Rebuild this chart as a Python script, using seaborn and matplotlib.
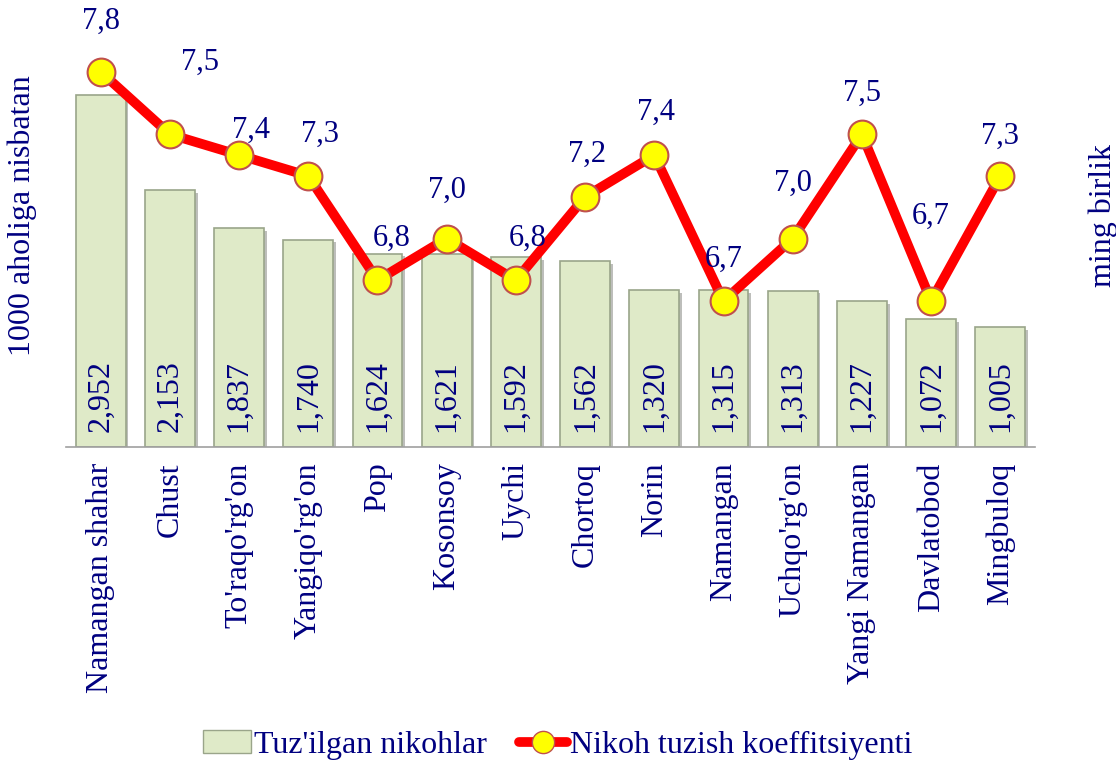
import matplotlib
matplotlib.use("Agg")
import matplotlib.pyplot as plt
import matplotlib.patheffects as pe
from matplotlib.patches import Patch
from matplotlib.lines import Line2D
import seaborn as sns
import pandas as pd

districts = ["Namangan shahar", "Chust", "To'raqo'rg'on", "Yangiqo'rg'on", "Pop",
             "Kosonsoy", "Uychi", "Chortoq", "Norin", "Namangan", "Uchqo'rg'on",
             "Yangi Namangan", "Davlatobod", "Mingbuloq"]
marriages = [2952, 2153, 1837, 1740, 1624, 1621, 1592, 1562, 1320, 1315, 1313, 1227, 1072, 1005]
coef = [7.8, 7.5, 7.4, 7.3, 6.8, 7.0, 6.8, 7.2, 7.4, 6.7, 7.0, 7.5, 6.7, 7.3]

# label offsets (pixels) for the coefficient labels, as placed in the original
label_offsets = [(0, 50), (30, 72), (12, 25), (12, 42), (14, 42), (0, 48), (12, 42),
                 (2, 42), (2, 43), (0, 42), (0, 55), (0, 41), (0, 85), (0, 40)]

NAVY = "#000080"

sns.set_theme(style="white")
plt.rcParams['font.family'] = ['Liberation Serif', 'DejaVu Serif']

df = pd.DataFrame({"district": districts, "marriages": marriages, "coef": coef})

fig = plt.figure(figsize=(11.16, 7.6), dpi=100)
ax = fig.add_axes([66 / 1116, 1 - 447 / 760, (1035 - 66) / 1116, (447 - 30) / 760])

sns.barplot(data=df, x="district", y="marriages", ax=ax, color="#DFEAC8",
            edgecolor="#9AA58A", linewidth=1.2, width=0.72, saturation=1)
for p in ax.patches:
    p.set_path_effects([pe.SimplePatchShadow(offset=(2, -2), alpha=0.35), pe.Normal()])

ax.set_ylim(0, 3500)
ax.set_xlim(-0.5, len(districts) - 0.5)
for i, v in enumerate(marriages):
    ax.annotate(f"{v:,}", (i, 0), xytext=(0, 15), textcoords="offset pixels",
                rotation=90, ha="center", va="bottom", fontsize=23, color=NAVY)

# category boundaries as downward ticks
ax.set_xticks([i - 0.5 for i in range(len(districts) + 1)], minor=True)
ax.tick_params(axis="x", which="minor", direction="out", length=9, color="#A0A0A0", width=1.2)
ax.tick_params(axis="x", which="major", length=0, pad=11)
ax.set_xticks(range(len(districts)))
ax.set_xticklabels(districts, rotation=90, fontsize=23, color=NAVY)
ax.set_yticks([])
ax.set_xlabel("")
for s in ["top", "right", "left"]:
    ax.spines[s].set_visible(False)
ax.spines["bottom"].set_color("#A0A0A0")
ax.spines["bottom"].set_linewidth(1.2)

ax2 = ax.twinx()
sns.lineplot(x=range(len(districts)), y=coef, ax=ax2, color="#FF0000", linewidth=7,
             marker="o", markersize=20, markerfacecolor="#FFFF00",
             markeredgecolor="#C0504D", markeredgewidth=1.5)
ax2.set_ylim(6, 8)
ax2.set_yticks([])
for s in ["top", "right", "left", "bottom"]:
    ax2.spines[s].set_visible(False)
for i, v in enumerate(coef):
    dx, dy = label_offsets[i]
    ax2.annotate(f"{v:.1f}".replace(".", ","), (i, v), xytext=(dx, dy),
                 textcoords="offset pixels", ha="center", va="center",
                 fontsize=22, color=NAVY)

ax.set_ylabel("1000 aholiga nisbatan", fontsize=23, color=NAVY)
ax.yaxis.set_label_coords((37 - 66) / 969, 0.556)
ax2.set_ylabel("ming birlik", fontsize=23, color=NAVY)
ax2.yaxis.set_label_coords((1088 - 66) / 969, 0.556)

handles = [Patch(facecolor="#DFEAC8", edgecolor="#9AA58A"),
           Line2D([0], [0], color="#FF0000", linewidth=7, marker="o", markersize=16,
                  markerfacecolor="#FFFF00", markeredgecolor="#C0504D")]
leg = fig.legend(handles, ["Tuz'ilgan nikohlar", "Nikoh tuzish koeffitsiyenti"],
                 loc="center", bbox_to_anchor=(0.5, 15 / 760), ncol=2, frameon=False,
                 fontsize=23, handlelength=1.5, handletextpad=0.1, columnspacing=1.0)
for t in leg.get_texts():
    t.set_color(NAVY)

fig.savefig("out.png", dpi=100)
